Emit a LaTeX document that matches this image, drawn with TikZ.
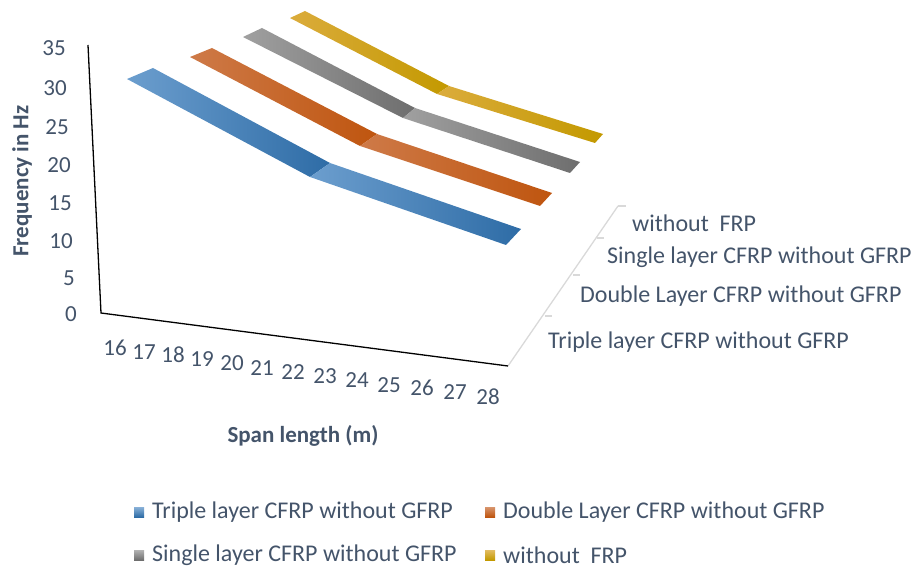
\documentclass[tikz,border=0pt]{standalone}
\usepackage{fontspec}
\setmainfont{Carlito}
\definecolor{txtc}{HTML}{44546A}
\definecolor{bluL}{HTML}{6C9ECE}
\definecolor{bluD}{HTML}{2E6CA6}
\definecolor{oraL}{HTML}{CE7A48}
\definecolor{oraD}{HTML}{BF550F}
\definecolor{gryL}{HTML}{A0A0A0}
\definecolor{gryD}{HTML}{6E6E6E}
\definecolor{yelL}{HTML}{DBAC3C}
\definecolor{yelD}{HTML}{C39900}
\definecolor{depc}{HTML}{D9D9D9}
\newcommand{\rbnstrip}[8]{%
  \shade[left color=#7,right color=#8] #1 -- #2 -- #4 -- #3 -- cycle;
  \shade[left color=#7,right color=#8] #3 -- #4 -- #6 -- #5 -- cycle;}
\begin{document}
\begin{tikzpicture}[x=1pt,y=-1pt,
  txt/.style={font=\fontsize{23}{27}\selectfont, text=txtc, inner sep=0pt},
  lbl/.style={font=\fontsize{24}{28}\selectfont, text=txtc, inner sep=0pt},
  ttl/.style={font=\fontsize{23}{27}\selectfont\bfseries, text=txtc, inner sep=0pt},
  axline/.style={black, line width=1.3pt},
  depline/.style={depc, line width=1.3pt},
  legsq/.style={minimum width=10pt, minimum height=10pt, inner sep=0pt}]
\useasboundingbox (0,0) rectangle (913,572);
% ribbons (back to front)
\rbnstrip{(290,18)}{(305,11)}{(437,94)}{(449,86)}{(595,143)}{(603,134)}{yelL}{yelD}
\rbnstrip{(243,37)}{(262,28)}{(403,118)}{(415,108)}{(570,173)}{(580,162)}{gryL}{gryD}
\rbnstrip{(190,57)}{(212,48)}{(360,146)}{(377,134)}{(540,206)}{(552,193)}{oraL}{oraD}
\rbnstrip{(127,79)}{(153,68)}{(310,177)}{(330,163)}{(506,245)}{(521,229)}{bluL}{bluD}
% axes
\coordinate (ytop) at (88,45);
\coordinate (orig) at (101,313);
\coordinate (xend) at (508,366);
\coordinate (ztop) at (618,206);
\coordinate (zt1) at (545,316);
\coordinate (zt2) at (573,275);
\coordinate (zt3) at (597,238);
\coordinate (zt1e) at (552,316);
\coordinate (zt2e) at (580,275);
\coordinate (zt3e) at (604,238);
\coordinate (ztope) at (626,206);
\draw[depline] (xend) -- (ztop);
\draw[depline] (zt1) -- (zt1e);
\draw[depline] (zt2) -- (zt2e);
\draw[depline] (zt3) -- (zt3e);
\draw[depline] (ztop) -- (ztope);
\draw[axline] (ytop) -- (orig) -- (xend);
% y tick labels
\node[txt, anchor=east] (y35) at (66,48) {35};
\node[txt, anchor=east] (y30) at (67,88) {30};
\node[txt, anchor=east] (y25) at (69,127) {25};
\node[txt, anchor=east] (y20) at (71,165) {20};
\node[txt, anchor=east] (y15) at (72,203) {15};
\node[txt, anchor=east] (y10) at (73,241) {10};
\node[txt, anchor=east] (y5) at (75,278) {5};
\node[txt, anchor=east] (y0) at (77,314) {0};
\node[ttl, rotate=90] (ylab) at (22,181) {Frequency in Hz};
% x tick labels
\node[txt] (x16) at (115,348) {16};
\node[txt] (x17) at (144,352) {17};
\node[txt] (x18) at (173,355) {18};
\node[txt] (x19) at (202,359) {19};
\node[txt] (x20) at (232,363) {20};
\node[txt] (x21) at (262,368) {21};
\node[txt] (x22) at (293,372) {22};
\node[txt] (x23) at (325,376) {23};
\node[txt] (x24) at (357,380) {24};
\node[txt] (x25) at (389,385) {25};
\node[txt] (x26) at (422,388) {26};
\node[txt] (x27) at (455,392) {27};
\node[txt] (x28) at (488,397) {28};
\node[ttl] (xlab) at (303,436) {Span length (m)};
% depth labels
\node[lbl, anchor=west] (d4) at (632,223) {without\ \ FRP};
\node[lbl, anchor=west] (d3) at (607,257) {Single layer CFRP without GFRP};
\node[lbl, anchor=west] (d2) at (580,296) {Double Layer CFRP without GFRP};
\node[lbl, anchor=west] (d1) at (548,342) {Triple layer CFRP without GFRP};
% legend
\node[legsq, top color=bluL!80!white, bottom color=bluD] (s1) at (139,512) {};
\node[lbl, anchor=west] (l1) at (152,512) {Triple layer CFRP without GFRP};
\node[legsq, top color=oraL!80!white, bottom color=oraD] (s2) at (490,512) {};
\node[lbl, anchor=west] (l2) at (503,512) {Double Layer CFRP without GFRP};
\node[legsq, top color=gryL!80!white, bottom color=gryD] (s3) at (139,555) {};
\node[lbl, anchor=west] (l3) at (152,555) {Single layer CFRP without GFRP};
\node[legsq, top color=yelL!80!white, bottom color=yelD] (s4) at (490,555) {};
\node[lbl, anchor=west] (l4) at (503,555) {without\ \ FRP};
\end{tikzpicture}
\end{document}
